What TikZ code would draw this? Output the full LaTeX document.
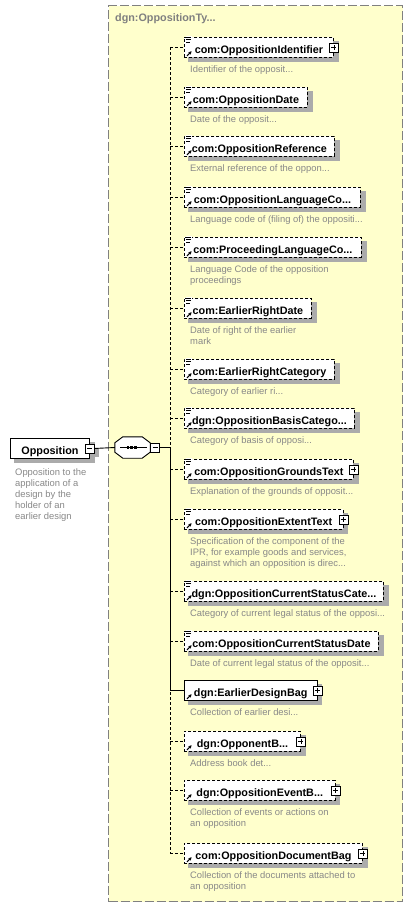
\documentclass[tikz,border=0pt]{standalone}
\usepackage{fontspec}
\setmainfont{Liberation Sans}
\usetikzlibrary{arrows.meta,calc,positioning}
\definecolor{TypeFill}{HTML}{FFFFCC}
\definecolor{FrameGray}{HTML}{808080}
\definecolor{ShadowGray}{HTML}{ABABAB}
\definecolor{NoteGray}{HTML}{888888}
\pgfdeclarelayer{back}
\pgfdeclarelayer{shade}
\pgfsetlayers{back,shade,main}
\tikzset{
  typebox/.style={
    draw=FrameGray, line width=1.2pt, dash pattern=on 9pt off 3pt,
    fill=TypeFill, anchor=north west, inner sep=0pt,
    minimum width=294, minimum height=896
  },
  typetitle/.style={
    anchor=north west, inner sep=0pt, text=FrameGray,
    font=\fontsize{10.8}{12}\selectfont\bfseries
  },
  element/.style={
    draw, line width=0.9pt, fill=white, anchor=north west,
    minimum height=20, inner xsep=2pt, inner ysep=0pt,
    text height=15.7pt, text depth=4.3pt,
    font=\fontsize{10.8}{12}\selectfont\bfseries
  },
  optelement/.style={element, dash pattern=on 3pt off 2pt},
  note/.style={
    anchor=north west, inner sep=0pt, align=left, text=NoteGray,
    font=\fontsize{9.4}{11}\selectfont
  },
  plusbox/.style={
    draw, fill=white, line width=0.8pt, minimum size=9, inner sep=0pt,
    path picture={
      \draw[line width=0.8pt]
        ([xshift=2pt]path picture bounding box.west) -- ([xshift=-2pt]path picture bounding box.east)
        ([yshift=2pt]path picture bounding box.south) -- ([yshift=-2pt]path picture bounding box.north);
    }
  },
  minusbox/.style={
    draw, fill=white, line width=0.8pt, minimum size=9, inner sep=0pt,
    path picture={
      \draw[line width=0.8pt]
        ([xshift=2pt]path picture bounding box.west) -- ([xshift=-2pt]path picture bounding box.east);
    }
  },
  seqbox/.style={minimum width=35, minimum height=21, inner sep=0pt},
  shadowbox/.style={fill=ShadowGray, draw=none},
  link/.style={line width=0.9pt},
  optlink/.style={link, dash pattern=on 3pt off 2pt}
}
% small marks in the corners of the element boxes
\newcommand{\docmark}[1]{%
  \fill[white] ([shift={(1.5pt,0.6pt)}]#1.north west) rectangle ([shift={(7.8pt,-6pt)}]#1.north west);
  \draw[line width=0.7pt]
    ([shift={(2pt,-0.3pt)}]#1.north west) -- ++(5pt,0pt)
    ([shift={(2pt,-2.7pt)}]#1.north west) -- ++(5pt,0pt)
    ([shift={(2pt,-5pt)}]#1.north west) -- ++(4pt,0pt);}
\newcommand{\refmark}[1]{%
  \draw[-{Stealth[length=3.2pt,width=3.4pt]}, line width=1pt]
    ([shift={(3pt,2pt)}]#1.south west) -- ++(4.6pt,4.6pt);}
% octagon outline of the sequence compositor
\newcommand{\seqpath}{%
  ([xshift=8pt]seq.north west) -- ([xshift=-8pt]seq.north east)
  -- ([yshift=-6pt]seq.north east) -- ([yshift=6pt]seq.south east)
  -- ([xshift=-8pt]seq.south east) -- ([xshift=8pt]seq.south west)
  -- ([yshift=6pt]seq.south west) -- ([yshift=-6pt]seq.north west) -- cycle}

\begin{document}
\begin{tikzpicture}[x=1pt,y=-1pt]
  \useasboundingbox (0,0) rectangle (413,907);
  % complex type frame
  \begin{pgfonlayer}{back}
    \node[typebox] (otype) at (108,5) {};
  \end{pgfonlayer}
  \node[typetitle] (otype-t) at (115,13.5) {dgn:OppositionTy...};

  % root element and sequence
  \node[element, minimum width=79] (opp) at (10,438) {Opposition};
  \node[minusbox] (opp-x) at (opp.east) {};
  \node[note] (opp-n) at ([shift={(5,9.7)}]opp.south west)
    {Opposition to the\\application of a\\design by the\\holder of an\\earlier design};
  \node[seqbox] (seq) at (132.5,447.5) {};
  \draw[line width=0.9pt, fill=white] \seqpath;
  \draw[line width=0.9pt] ([xshift=5.5pt]seq.west) -- ([xshift=-3.5pt]seq.east);
  \foreach \dx in {-4.6,-0.8,3} {
    \fill ([xshift=\dx pt]seq.center) ++(-1.4pt,-1.4pt) rectangle ++(2.8pt,2.8pt);
  }
  \node[minusbox] (seq-x) at ([xshift=5pt]seq.east) {};
  \coordinate (trunk) at (170,0);

  % children
  \node[optelement, minimum width=149] (oppid) at (184,37) {com:OppositionIdentifier};
  \node[plusbox] (oppid-x) at (oppid.east) {};
  \node[note] (oppid-n) at ([shift={(6,8)}]oppid.south west) {Identifier of the opposit...};

  \node[optelement, minimum width=123] (oppdate) at (184,87) {com:OppositionDate};
  \node[note] (oppdate-n) at ([shift={(6,8)}]oppdate.south west) {Date of the opposit...};

  \node[optelement, minimum width=150] (oppref) at (184,136) {com:OppositionReference};
  \node[note] (oppref-n) at ([shift={(6,8)}]oppref.south west) {External reference of the oppon...};

  \node[optelement, minimum width=176] (opplang) at (184,187) {com:OppositionLanguageCo...};
  \node[note] (opplang-n) at ([shift={(6,8)}]opplang.south west) {Language code of (filing of) the oppositi...};

  \node[optelement, minimum width=177] (proclang) at (184,237) {com:ProceedingLanguageCo...};
  \node[note] (proclang-n) at ([shift={(6,8)}]proclang.south west) {Language Code of the opposition\\proceedings};

  \node[optelement, minimum width=127] (erdate) at (184,298) {com:EarlierRightDate};
  \node[note] (erdate-n) at ([shift={(6,8)}]erdate.south west) {Date of right of the earlier\\mark};

  \node[optelement, minimum width=150] (ercat) at (184,359) {com:EarlierRightCategory};
  \node[note] (ercat-n) at ([shift={(6,8)}]ercat.south west) {Category of earlier ri...};

  \node[optelement, minimum width=170] (basiscat) at (184,408) {dgn:OppositionBasisCatego...};
  \node[note] (basiscat-n) at ([shift={(6,8)}]basiscat.south west) {Category of basis of opposi...};

  \node[optelement, minimum width=169] (grounds) at (184,459) {com:OppositionGroundsText};
  \node[plusbox] (grounds-x) at (grounds.east) {};
  \node[note] (grounds-n) at ([shift={(6,8)}]grounds.south west) {Explanation of the grounds of opposit...};

  \node[optelement, minimum width=158.5] (extent) at (184,509) {com:OppositionExtentText};
  \node[plusbox] (extent-x) at (extent.east) {};
  \node[note] (extent-n) at ([shift={(6,8)}]extent.south west)
    {Specification of the component of the\\IPR, for example goods and services,\\against which an opposition is direc...};

  \node[optelement, minimum width=199] (statuscat) at (184,581) {dgn:OppositionCurrentStatusCate...};
  \node[note] (statuscat-n) at ([shift={(6,8)}]statuscat.south west) {Category of current legal status of the opposi...};

  \node[optelement, minimum width=194] (statusdate) at (184,631) {com:OppositionCurrentStatusDate};
  \node[note] (statusdate-n) at ([shift={(6,8)}]statusdate.south west) {Date of current legal status of the opposit...};

  \node[element, minimum width=132.5] (earlierbag) at (184,680) {dgn:EarlierDesignBag};
  \node[plusbox] (earlierbag-x) at (earlierbag.east) {};
  \node[note] (earlierbag-n) at ([shift={(6,8)}]earlierbag.south west) {Collection of earlier desi...};

  \node[optelement, minimum width=116] (opponentbag) at (184,731) {dgn:OpponentB...};
  \node[plusbox] (opponentbag-x) at (opponentbag.east) {};
  \node[note] (opponentbag-n) at ([shift={(6,8)}]opponentbag.south west) {Address book det...};

  \node[optelement, minimum width=150.5] (eventbag) at (184,780) {dgn:OppositionEventB...};
  \node[plusbox] (eventbag-x) at (eventbag.east) {};
  \node[note] (eventbag-n) at ([shift={(6,8)}]eventbag.south west) {Collection of events or actions on\\an opposition};

  \node[optelement, minimum width=178] (docbag) at (184,843) {com:OppositionDocumentBag};
  \node[plusbox] (docbag-x) at (docbag.east) {};
  \node[note] (docbag-n) at ([shift={(6,8)}]docbag.south west) {Collection of the documents attached to\\an opposition};

  % shadows behind the boxes
  \begin{pgfonlayer}{shade}
    \foreach \n in {opp,oppid,oppdate,oppref,opplang,proclang,erdate,ercat,basiscat,grounds,extent,statuscat,statusdate,earlierbag,opponentbag,eventbag,docbag} {
      \path[shadowbox] ($(\n.south west)+(4pt,-4pt)$) rectangle ($(\n.north east)+(5pt,-4pt)$);
    }
    \path[shadowbox] ($(opp-x.south west)+(4pt,-4pt)$) rectangle ($(opp-x.north east)+(4pt,-4pt)$);
    \path[shadowbox, shift={(4pt,-4pt)}] \seqpath;
  \end{pgfonlayer}

  % corner marks
  \foreach \n in {oppid,oppdate,oppref,opplang,proclang,erdate,ercat,basiscat,grounds,extent,statuscat,statusdate} {
    \docmark{\n}
  }
  \foreach \n in {oppid,oppdate,oppref,opplang,proclang,erdate,ercat,basiscat,grounds,extent,statuscat,statusdate,earlierbag,opponentbag,eventbag,docbag} {
    \refmark{\n}
  }

  % connectors
  \draw[link] (opp-x.east) -- (seq.west);
  \draw[optlink] (oppid.west -| trunk) -- (docbag.west -| trunk);
  \draw[link] (seq-x.east) -| (earlierbag.west -| trunk) -- (earlierbag.west);
  \foreach \n in {oppid,oppdate,oppref,opplang,proclang,erdate,ercat,basiscat,grounds,extent,statuscat,statusdate,opponentbag,eventbag,docbag} {
    \draw[optlink] (\n.west -| trunk) -- (\n.west);
  }
\end{tikzpicture}
\end{document}
